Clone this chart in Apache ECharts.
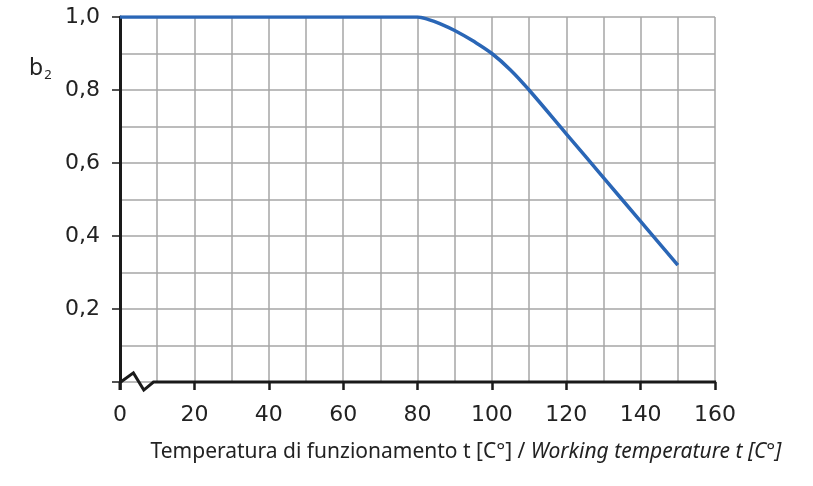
<!DOCTYPE html>
<html>
<head>
<meta charset="utf-8">
<script src="https://cdn.jsdelivr.net/npm/echarts@6/dist/echarts.min.js"></script>
<style>html,body{margin:0;padding:0;background:#fff}#c{width:813px;height:486px}</style>
</head>
<body>
<div id="c"></div>
<script>
var temps = [0, 80, 83, 86, 90, 95, 100, 105, 110, 120, 130, 140, 150];
var b2 = [1.0, 1.0, 0.993, 0.982, 0.963, 0.934, 0.9, 0.855, 0.8, 0.68, 0.56, 0.44, 0.32];
var xTicks = [0, 20, 40, 60, 80, 100, 120, 140, 160];
var yTicks = ['', '0,2', '0,4', '0,6', '0,8', '1,0'];
var titleIt = 'Temperatura di funzionamento t [C°] / ';
var titleEn = 'Working temperature t [C°]';

var chart = echarts.init(document.getElementById('c'));
var FONT = 'DejaVu Sans';
var TFONT = 'Noto Sans';
var GRID = '#a6a6a6';
var option = {
  animation: false,
  grid: {left: 120, right: 98, top: 17, bottom: 104},
  xAxis: {
    type: 'value', min: 0, max: 160, interval: 20,
    axisLine: {show: false},
    axisTick: {show: true, length: 8, inside: false, lineStyle: {color: '#1a1a1a', width: 2.5}},
    axisLabel: {margin: 22, fontFamily: FONT, fontSize: 22, color: '#222',
      formatter: function (v) { return xTicks.indexOf(v) >= 0 ? String(v) : ''; }},
    splitLine: {show: true, lineStyle: {color: GRID, width: 1.5}},
    minorTick: {show: false, splitNumber: 2},
    minorSplitLine: {show: true, lineStyle: {color: GRID, width: 1.5}}
  },
  yAxis: {
    type: 'value', min: 0, max: 1, interval: 0.2,
    axisLine: {show: true, lineStyle: {color: '#1a1a1a', width: 3}},
    axisTick: {show: true, length: 8, lineStyle: {color: '#1a1a1a', width: 1.5}},
    axisLabel: {margin: 20, fontFamily: FONT, fontSize: 22, color: '#222',
      formatter: function (v) { return yTicks[Math.round(v / 0.2)]; }},
    splitLine: {show: true, lineStyle: {color: GRID, width: 1.5}},
    minorTick: {show: false, splitNumber: 2},
    minorSplitLine: {show: true, lineStyle: {color: GRID, width: 1.5}}
  },
  series: [{
    type: 'line',
    data: temps.map(function (t, i) { return [t, b2[i]]; }),
    smooth: 0.4,
    showSymbol: false,
    lineStyle: {color: '#2a66b6', width: 3.5},
    z: 5
  }]
};
chart.setOption(option);

function px(p) { return chart.convertToPixel({gridIndex: 0}, p); }
var o = px([0, 0]);
var brk = [[0.2, 0], [3.6, 0.025], [6.4, -0.022], [9, 0], [160.3, 0]].map(px);
var yExt = px([0, -0.022]);
chart.setOption({
  graphic: [
    {type: 'polyline', shape: {points: brk}, style: {stroke: '#1a1a1a', lineWidth: 3, fill: null, lineJoin: 'miter'}, z: 10},
    {type: 'line', shape: {x1: o[0], y1: o[1], x2: yExt[0], y2: yExt[1]}, style: {stroke: '#1a1a1a', lineWidth: 3}, z: 10},
    {type: 'text', x: 29, y: 55, z: 10,
      style: {text: '{b|b}{s|2}', rich: {
        b: {fontFamily: TFONT, fontSize: 23, fill: '#222'},
        s: {fontFamily: TFONT, fontSize: 13, fill: '#222', padding: [14, 0, 0, 1]}
      }}},
    {type: 'text', x: 466, y: 452, z: 10,
      style: {text: '{n|' + titleIt + '}{i|' + titleEn + '}', align: 'center', verticalAlign: 'middle', rich: {
        n: {fontFamily: TFONT, fontSize: 21, fill: '#222'},
        i: {fontFamily: TFONT, fontSize: 21, fontStyle: 'italic', fill: '#222'}
      }}}
  ]
});
</script>
</body>
</html>
